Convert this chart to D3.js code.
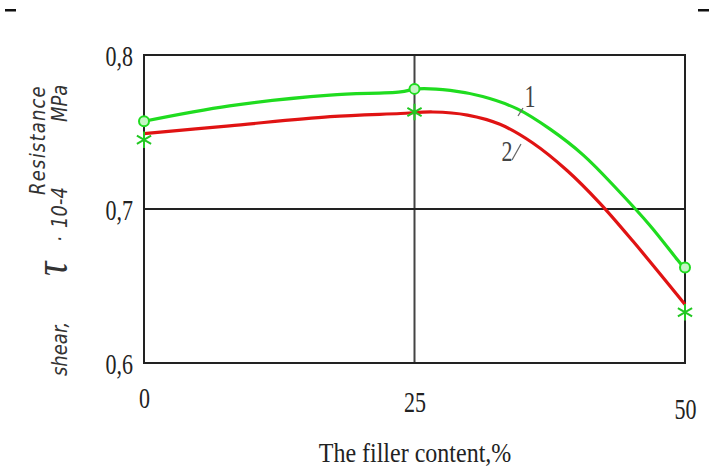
<!DOCTYPE html>
<html>
<head>
<meta charset="utf-8">
<script src="https://cdn.jsdelivr.net/npm/d3@7"></script>
<style>
  html, body { margin: 0; padding: 0; background: #fff; }
  svg { display: block; }
</style>
</head>
<body>
<svg id="chart" width="713" height="474"></svg>
<script>
// Filler content, %
const curve1X = [0, 7.9, 17.2, 23.7, 25.2, 28.3, 31.3, 34.5, 37.5, 40.6, 43.7, 46.8, 49.3, 50];
const curve1Y = [0.757, 0.767, 0.774, 0.776, 0.778, 0.777, 0.773, 0.765, 0.752, 0.735, 0.713, 0.689, 0.667, 0.661];
const curve2X = [0, 7.9, 17.2, 23.7, 26.7, 29.9, 32.9, 35.9, 39.1, 42.1, 45.2, 50];
const curve2Y = [0.749, 0.754, 0.760, 0.762, 0.763, 0.761, 0.755, 0.743, 0.725, 0.704, 0.679, 0.638];

// Measured points (markers)
const markX = [0, 25, 50];
const mark1Y = [0.757, 0.778, 0.662];
const mark2Y = [0.745, 0.763, 0.633];

const xTicks = [0, 25, 50];
const yTicks = [0.6, 0.7, 0.8];
const yTickLabels = ["0,6", "0,7", "0,8"];
const seriesLabels = ["1", "2"];

const svg = d3.select("#chart");
const plot = { left: 144, right: 685, top: 55, bottom: 363 };

const x = d3.scaleLinear().domain([0, 50]).range([plot.left, plot.right]);
const y = d3.scaleLinear().domain([0.6, 0.8]).range([plot.bottom, plot.top]);

// corner marks
svg.append("rect").attr("x", 5).attr("y", 9).attr("width", 11).attr("height", 2.5).attr("fill", "#111");
svg.append("rect").attr("x", 698).attr("y", 9).attr("width", 11).attr("height", 2.5).attr("fill", "#111");

// grid lines
svg.append("line")
  .attr("x1", x(25)).attr("x2", x(25)).attr("y1", y(0.8)).attr("y2", y(0.6))
  .attr("stroke", "#444").attr("stroke-width", 2);
svg.append("line")
  .attr("x1", x(0)).attr("x2", x(50)).attr("y1", y(0.7)).attr("y2", y(0.7))
  .attr("stroke", "#222").attr("stroke-width", 2);

// frame
svg.append("rect")
  .attr("x", plot.left).attr("y", plot.top)
  .attr("width", plot.right - plot.left).attr("height", plot.bottom - plot.top)
  .attr("fill", "none").attr("stroke", "#222").attr("stroke-width", 2);

const serif = "'Liberation Serif', 'Times New Roman', serif";

// axes (labels only, lines drawn by the frame)
const xAxis = svg.append("g")
  .attr("transform", `translate(0,${plot.bottom})`)
  .call(d3.axisBottom(x).tickValues(xTicks).tickSize(0).tickPadding(0).tickFormat(d3.format("d")));
xAxis.select(".domain").remove();
xAxis.selectAll("text")
  .attr("font-family", serif)
  .attr("font-size", 22)
  .attr("fill", "#222")
  .attr("y", 0)
  .attr("dy", 0)
  .attr("transform", (d, i) => `translate(0,${[45, 49, 56][i]}) scale(1,1.3)`);

const yAxis = svg.append("g")
  .attr("transform", `translate(${plot.left},0)`)
  .call(d3.axisLeft(y).tickValues(yTicks).tickSize(0).tickPadding(0)
    .tickFormat((d, i) => yTickLabels[i]));
yAxis.select(".domain").remove();
yAxis.selectAll("text")
  .attr("font-family", serif)
  .attr("font-size", 22)
  .attr("fill", "#222")
  .attr("x", 0)
  .attr("dy", 0)
  .attr("text-anchor", "end")
  .attr("transform", "translate(-11,10) scale(1,1.3)");

// curves
const line = d3.line().x(d => x(d[0])).y(d => y(d[1])).curve(d3.curveCatmullRom.alpha(0.5));
const green = "#1fdc1f", red = "#e01313";

svg.append("path")
  .datum(d3.zip(curve2X, curve2Y))
  .attr("d", line).attr("fill", "none").attr("stroke", red).attr("stroke-width", 3.2);
svg.append("path")
  .datum(d3.zip(curve1X, curve1Y))
  .attr("d", line).attr("fill", "none").attr("stroke", green).attr("stroke-width", 3.2);

// markers
svg.selectAll(".m1").data(d3.zip(markX, mark1Y)).join("circle")
  .attr("class", "m1")
  .attr("cx", d => x(d[0])).attr("cy", d => y(d[1])).attr("r", 5)
  .attr("fill", "#c4f5c4").attr("stroke", green).attr("stroke-width", 2);
const star = d3.symbol().type(d3.symbolAsterisk).size(190);
svg.selectAll(".m2").data(d3.zip(markX, mark2Y)).join("path")
  .attr("class", "m2")
  .attr("transform", d => `translate(${x(d[0])},${y(d[1])})`)
  .attr("d", star).attr("fill", "none").attr("stroke", "#22c822").attr("stroke-width", 2);

// curve labels with leaders
svg.append("text").attr("text-anchor", "middle")
  .attr("font-family", serif).attr("font-size", 22).attr("fill", "#444")
  .attr("transform", "translate(530,107) scale(1,1.45)")
  .text(seriesLabels[0]);
svg.append("path").attr("d", "M523,108 L518,116").attr("stroke", "#666").attr("stroke-width", 1.2).attr("fill", "none");
svg.append("text").attr("text-anchor", "middle")
  .attr("font-family", serif).attr("font-size", 22).attr("fill", "#444")
  .attr("transform", "translate(507,161) scale(1,1.35)")
  .text(seriesLabels[1]);
svg.append("path").attr("d", "M512,160 L521,144").attr("stroke", "#666").attr("stroke-width", 1.2).attr("fill", "none");

// axis titles
svg.append("text")
  .attr("transform", "translate(415,462) scale(1,1.15)")
  .attr("text-anchor", "middle")
  .attr("font-family", serif).attr("font-size", 24).attr("fill", "#222")
  .text("The filler content,%");

const sans = "'DejaVu Sans', sans-serif";
svg.append("text")
  .attr("transform", "translate(45,140) rotate(-90) scale(1,1.2)")
  .attr("text-anchor", "middle")
  .attr("font-family", sans).attr("font-style", "italic").attr("font-size", 18)
  .attr("letter-spacing", 1.2).attr("fill", "#333")
  .text("Resistance");

// second title line, pieces placed along the rotated baseline
const t2 = svg.append("text")
  .attr("transform", "translate(67,376) rotate(-90) scale(1,1.2)")
  .attr("font-family", sans).attr("font-style", "italic").attr("font-size", 18)
  .attr("fill", "#333");
t2.append("tspan").attr("x", 0).text("shear,");
t2.append("tspan").attr("x", 100).attr("font-family", serif).attr("font-size", 40).text("τ");
t2.append("tspan").attr("x", 134).text("·");
t2.append("tspan").attr("x", 148).text("10-4");
t2.append("tspan").attr("x", 254).text("MPa");
</script>
</body>
</html>
